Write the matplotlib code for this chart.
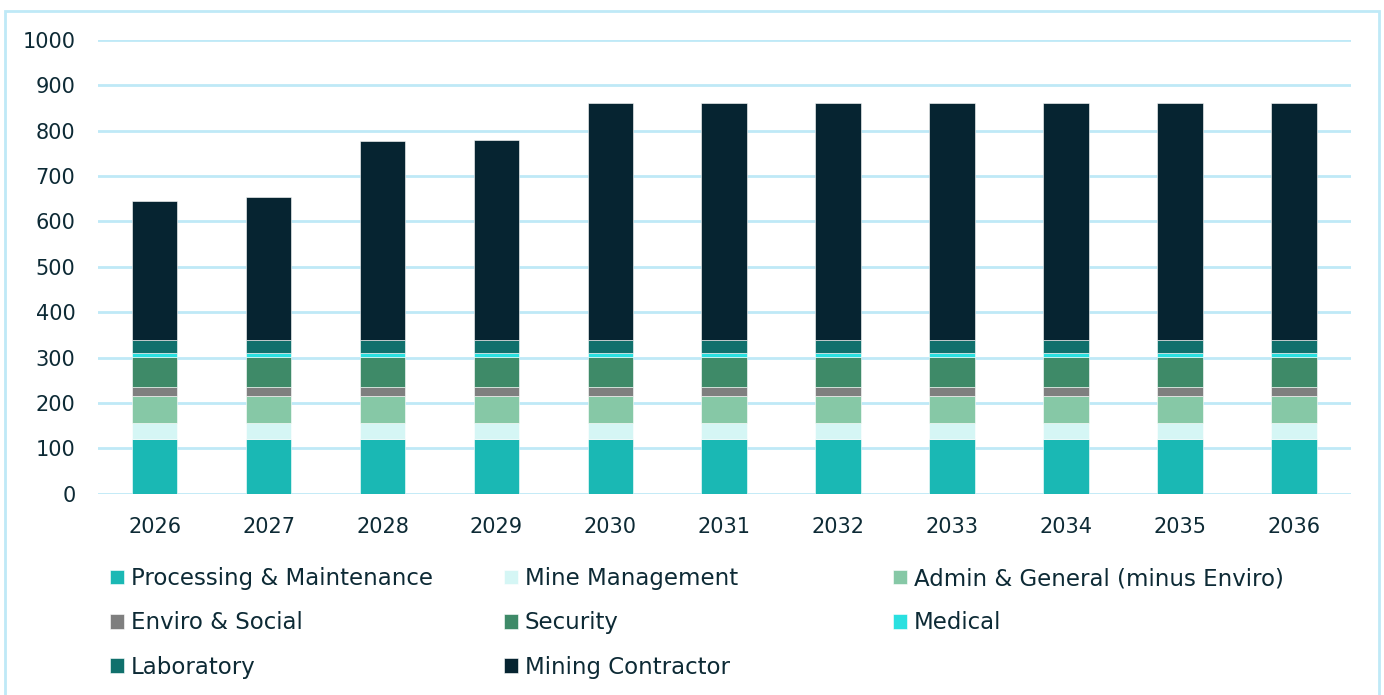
import matplotlib
matplotlib.use('Agg')
import matplotlib.pyplot as plt
import matplotlib.patches as mpatches
import numpy as np

plt.rcParams['font.family'] = ['DejaVu Sans']

#%% Data

years = ['2026', '2027', '2028', '2029', '2030', '2031', '2032', '2033', '2034', '2035', '2036']

processing = [121] * 11
mine_mgmt  = [34] * 11
admin      = [60] * 11
enviro     = [21] * 11
security   = [66] * 11
medical    = [7] * 11
laboratory = [30] * 11
mining     = [307, 316, 439, 441, 523, 523, 523, 523, 523, 523, 523]

series = [
    ('Processing & Maintenance', processing, '#1ab8b4'),
    ('Mine Management', mine_mgmt, '#d5f6f5'),
    ('Admin & General (minus Enviro)', admin, '#86c8a6'),
    ('Enviro & Social', enviro, '#7f7f7f'),
    ('Security', security, '#3e8a68'),
    ('Medical', medical, '#2ae0e0'),
    ('Laboratory', laboratory, '#10706c'),
    ('Mining Contractor', mining, '#062431'),
]

text_col = '#0d2a35'
grid_col = '#bfe9f7'

#%% Plot

fig = plt.figure(figsize=(13.84, 6.95), dpi=100)
ax = fig.add_axes([0.0706, 0.2897, 0.9054, 0.6527])

x = np.arange(len(years))
bottom = np.zeros(len(years))
handles = {}
for name, vals, col in series:
    b = ax.bar(x, vals, width=0.4, bottom=bottom, color=col, label=name,
               edgecolor='white', linewidth=0.4, zorder=3)
    handles[name] = b
    bottom += np.array(vals)

ax.set_ylim(0, 1000)
ax.set_xlim(-0.5, len(years) - 0.5)
ax.set_yticks(range(0, 1001, 100))
ax.set_xticks(x)
ax.set_xticklabels(years)
ax.yaxis.grid(True, color=grid_col, linewidth=2, zorder=0)
ax.tick_params(axis='both', length=0, labelsize=15, colors=text_col)
ax.tick_params(axis='y', pad=16)
ax.tick_params(axis='x', pad=17)
for s in ax.spines.values():
    s.set_visible(False)

# legend in three columns, placed like the original
cols = [
    (['Processing & Maintenance', 'Enviro & Social', 'Laboratory'], 110),
    (['Mine Management', 'Security', 'Mining Contractor'], 504),
    (['Admin & General (minus Enviro)', 'Medical'], 893),
]
for names, xpix in cols:
    leg = fig.legend([handles[n] for n in names], names,
                     loc='upper left', bbox_to_anchor=(xpix / 1384, 1 - 567 / 695),
                     frameon=False, fontsize=16.5, labelcolor=text_col,
                     handlelength=0.6, handleheight=0.6, handletextpad=0.3,
                     labelspacing=0.93, borderaxespad=0, borderpad=0)

# light blue outer frame
frame = mpatches.Rectangle((5 / 1384, -0.05), 1374 / 1384, 1.05 - 11 / 695,
                           transform=fig.transFigure, fill=False,
                           edgecolor=grid_col, linewidth=2)
fig.patches.append(frame)

fig.savefig('out.png', dpi=100)
